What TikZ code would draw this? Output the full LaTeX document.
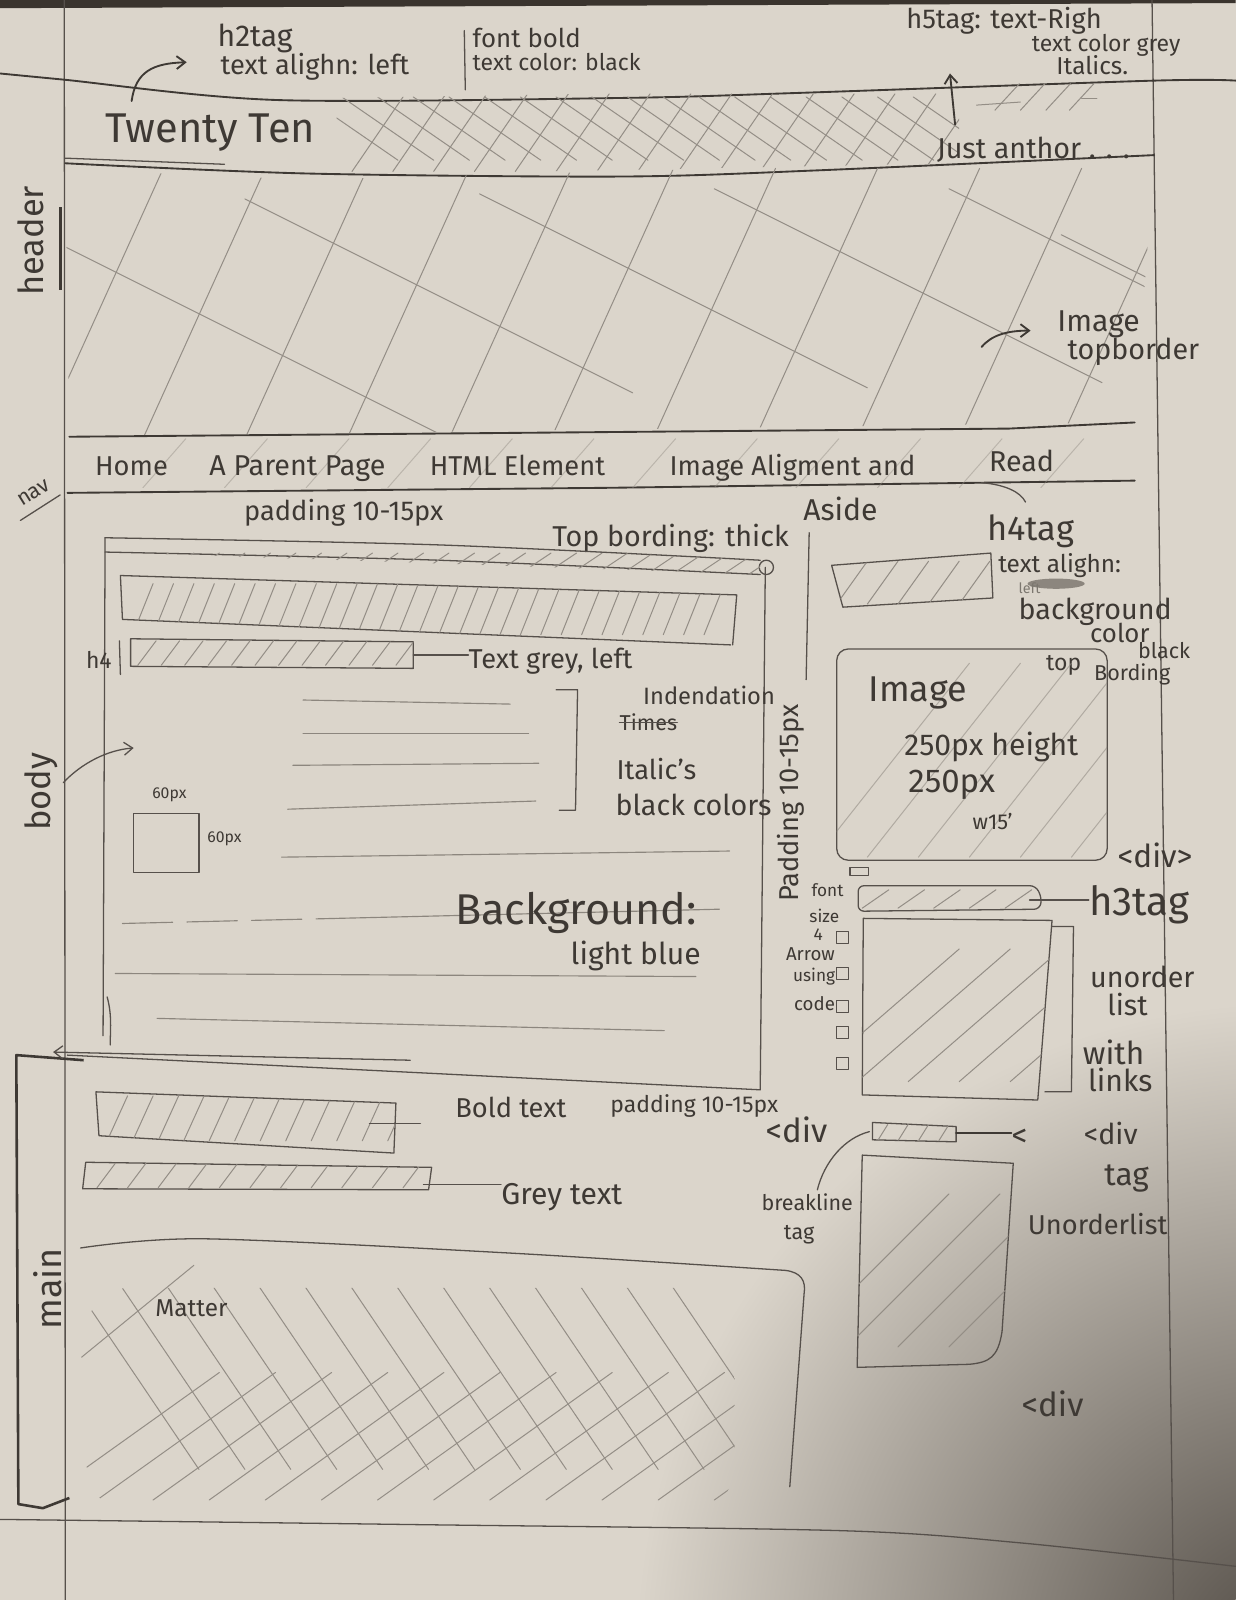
\documentclass[tikz,border=0pt]{standalone}
\usepackage{fontspec}
\setmainfont{Fira Sans}
\usetikzlibrary{arrows.meta}
\definecolor{paper}{RGB}{219,213,203}
\definecolor{ink}{RGB}{62,57,52}
\definecolor{lead}{RGB}{140,134,126}
\definecolor{umbra}{RGB}{58,52,46}
\newcommand{\fs}[1]{\fontsize{#1}{#1}\selectfont}
\begin{document}
\begin{tikzpicture}[x=0.025cm,y=-0.025cm,
  pen/.style={draw=ink,line width=1.3pt,line cap=round,line join=round},
  soft/.style={draw=ink!85!paper,line width=0.9pt,line cap=round,line join=round},
  faint/.style={draw=lead,line width=0.8pt,line cap=round},
  hatch/.style={draw=lead!90!paper,line width=0.7pt,line cap=round},
  note/.style={text=ink,inner sep=0pt,anchor=base west},
  side/.style={text=ink,inner sep=0pt},
  barb/.style={-{Straight Barb[length=6pt,width=9pt]}},
]
% ---------- sheet ----------
\fill[paper] (0,0) rectangle (1211,1568);
\useasboundingbox (0,0) rectangle (1211,1568);
\begin{scope}
  \clip (0,0) rectangle (1211,1568);
  \shade[inner color=umbra!85!paper, outer color=paper] (1262,1622) circle (640);
  \fill[umbra] (0,0) -- (1211,0) -- (1211,3) -- (0,8) -- cycle;
\end{scope}
% margins of the sheet
\draw[soft] (63,0) -- (64,1568);
\draw[soft] (1129,0) -- (1150,1568);
\draw[soft] plot[smooth] coordinates {(0,1489) (400,1494) (823,1500) (1000,1512) (1211,1535)};

% ---------- header band ----------
\draw[pen] plot[smooth] coordinates {(0,72) (62,78) (271,98) (608,96) (784,91) (1131,79) (1211,79)};
\draw[pen] plot[smooth] coordinates {(64,160) (300,170) (608,173) (800,167) (1131,152)};
\draw[soft] (64,155) -- (220,161);
\begin{scope}
  \clip (330,96) -- (940,86) -- (940,160) -- (330,172) -- cycle;
  \foreach \sx in {300,335,...,900} \draw[hatch] (\sx,95) -- ++(90,62);
  \foreach \sx in {345,385,...,945} \draw[hatch] (\sx,168) -- ++(52,-76);
\end{scope}
\foreach \sx in {975,1000,1025,1048} \draw[hatch] (\sx,108) -- ++(24,-26);
\draw[hatch] (957,103) -- (1000,100);
\draw[hatch] (1060,97) -- (1075,97);

% header texts
\node[note,font=\fs{29}] (title) at (103,140) {Twenty Ten};
\node[note,font=\fs{20}] (tagline) at (918,155) {Just anthor . . .};
\node[note,font=\fs{21}] (h2note) at (213,46) {h2tag};
\node[note,font=\fs{19}] (alignnote) at (216,73) {text alighn: left};
\node[note,font=\fs{18}] (boldnote) at (463,47) {font bold};
\node[note,font=\fs{16}] (colnote) at (463,69) {text color: black};
\node[note,font=\fs{19}] (h5note) at (888,28) {h5tag: text-Righ};
\node[note,font=\fs{16}] (greynote) at (1011,50) {text color grey};
\node[note,font=\fs{17}] (italnote) at (1035,73) {Italics.};
\draw[soft] (455,30) -- (456,88);
\coordinate (tA) at (129,99);
\coordinate (tB) at (183,61);
\draw[pen,barb] (tA) .. controls (133,70) and (150,62) .. (tB);
\coordinate (jA) at (936,122);
\coordinate (jB) at (931,72);
\draw[pen,barb] (jA) -- (jB);

% ---------- header image ----------
\begin{scope}
  \clip (64,166) -- (300,176) -- (1131,154) -- (1112,414) -- (68,428) -- cycle;
  \foreach \sx in {40,140,...,1140} \draw[hatch] (\sx,430) -- ++(120,-265);
  \foreach \sx/\sy in {60/240, 240/195, 470/190, 700/185, 930/185, 1040/230}
    \draw[hatch] (\sx,\sy) -- ++(380,190);
\end{scope}
\node[note,font=\fs{21}] (imgnote) at (1036,325) {Image};
\node[note,font=\fs{20}] (topnote) at (1046,352) {topborder};
\coordinate (iA) at (962,340);
\coordinate (iB) at (1010,324);
\draw[pen,barb] (iA) .. controls (972,328) and (988,324) .. (iB);

% ---------- nav ----------
\draw[pen] (68,428) -- (989,420) -- (1112,414);
\draw[pen] (66,483) -- (600,478) -- (1112,471);
\begin{scope}
  \clip (66,430) rectangle (1112,478);
  \foreach \sx in {140,220,...,1080} \draw[hatch,draw opacity=0.45] (\sx,478) -- ++(42,-48);
\end{scope}
\node[note,font=\fs{19}] (navhome) at (93,466) {Home};
\node[note,font=\fs{20}] (navparent) at (205,466) {A Parent Page};
\node[note,font=\fs{19}] (navhtml) at (421,466) {HTML Element};
\node[note,font=\fs{19}] (navimage) at (656,466) {Image Aligment and};
\node[note,font=\fs{20}] (navread) at (969,462) {Read};
\coordinate (rA) at (962,473);
\coordinate (rB) at (1005,492);
\draw[soft] (rA) .. controls (985,475) and (1000,482) .. (rB);

% ---------- left margin labels ----------
\node[side,font=\fs{24},rotate=90] (lhead) at (30,236) {header};
\draw[ink,line width=2.2pt] (59,203) -- (59,284);
\node[side,font=\fs{15},rotate=32] (lnav) at (33,483) {nav};
\draw[soft] (20,510) -- (59,485);
\node[side,font=\fs{24},rotate=90] (lbody) at (40,776) {body};
\node[side,font=\fs{25},rotate=90] (lmain) at (47,1263) {main};
\coordinate (bA) at (62,767);
\coordinate (bB) at (131,733);
\draw[soft,barb] (bA) .. controls (80,748) and (105,735) .. (bB);
% bracket around the main part
\draw[ink,line width=1.8pt,line join=round] (82,1039) -- (16,1034) -- (18,1474) -- (42,1478) -- (68,1468);

% ---------- body box ----------
\node[note,font=\fs{19}] (padnote) at (239,510) {padding 10-15px};
\node[note,font=\fs{20}] (topbord) at (541,536) {Top bording: thick};
\draw[soft] plot[smooth] coordinates {(103,527) (430,534) (745,549)};
\draw[soft] plot[smooth] coordinates {(103,541) (430,549) (745,563)};
\draw[soft] (751,556) circle (7);
\begin{scope}
  \clip plot[smooth] coordinates {(103,527) (430,534) (745,549)} -- (745,563) -- (103,541) -- cycle;
  \foreach \sx in {110,135,...,745} \draw[hatch] (\sx,562) -- ++(30,-20);
\end{scope}
\draw[soft] (103,527) -- (101,1015);
\draw[soft] (105,977) .. controls (110,995) and (108,1010) .. (108,1024);
\draw[soft] (750,556) -- (745,1068);
\draw[soft] (66,1034) -- (745,1068);
\coordinate (dA) at (402,1039);
\coordinate (dB) at (52,1031);
\draw[soft,barb] (dA) -- (dB);

% title bar
\draw[soft] (118,564) -- (722,583) -- (718,632);
\draw[soft] (118,564) -- (120,607) -- (716,632);
\begin{scope}
  \clip (118,564) -- (722,583) -- (718,632) -- (120,607) -- cycle;
  \foreach \sx in {130,150,...,700} \draw[hatch] (\sx,622) -- ++(20,-50);
\end{scope}
% h4 bar
\draw[soft] (128,626) -- (405,629) -- (405,655) -- (128,653) -- cycle;
\begin{scope}
  \clip (128,626) -- (405,629) -- (405,655) -- (128,653) -- cycle;
  \foreach \sx in {135,158,...,400} \draw[hatch] (\sx,652) -- ++(18,-24);
\end{scope}
\draw[soft] (117,628) -- (118,661);
\node[note,font=\fs{16}] (h4note) at (84,655) {h4};
\node[note,font=\fs{19}] (greyleft) at (459,655) {Text grey, left};
\coordinate (gA) at (405,642);
\draw[soft] (gA) -- (greyleft.west |- gA);

% paragraph lines
\draw[faint] (297,686) -- (500,690);
\draw[faint] (297,719) -- (518,719);
\draw[faint] (287,750) -- (528,748);
\draw[faint] (282,793) -- (525,785);
\draw[faint] (276,840) -- (715,834);
\draw[faint,dash pattern=on 35pt off 10pt] (120,905) -- (330,900);
\draw[faint] (330,900) -- (705,891);
\draw[faint] (113,954) -- (682,957);
\draw[faint] (154,998) -- (651,1010);
\draw[soft] (545,676) -- (566,676) -- (564,794) -- (548,794);
\node[note,font=\fs{16.5}] (indent) at (630,690) {Indendation};
\node[note,font=\fs{15}] (times) at (607,716) {Times};
\draw[soft] (times.west) -- (times.east);
\node[note,font=\fs{19}] (italics) at (604,764) {Italic's};
\node[note,font=\fs{20}] (blackcol) at (603,799) {black colors};
% 60px square
\draw[soft] (131,797) rectangle (195,855);
\node[note,font=\fs{11}] (sqw) at (149,783) {60px};
\node[note,font=\fs{11}] (sqh) at (203,826) {60px};
\node[note,font=\fs{30}] (bgnote) at (446,906) {Background:};
\node[note,font=\fs{21}] (bluenote) at (559,945) {light blue};

% ---------- aside ----------
\node[note,font=\fs{21}] (aside) at (787,510) {Aside};
\draw[soft] (793,522) -- (790,666);
\node[side,font=\fs{19}] [rotate=90] (padv) at (775,787) {Padding 10-15px};
% h4 block
\draw[soft] (815,554) -- (971,542) -- (973,586) -- (826,595) -- cycle;
\begin{scope}
  \clip (815,554) -- (971,542) -- (973,586) -- (826,595) -- cycle;
  \foreach \sx in {820,850,...,970} \draw[hatch] (\sx,592) -- ++(30,-42);
\end{scope}
\node[note,font=\fs{24}] (h4tag) at (967,530) {h4tag};
\node[note,font=\fs{17}] (asidealign) at (978,561) {text alighn:};
\fill[lead] (1035,572) ellipse (28 and 5);
\node[note,font=\fs{10},text=lead!80!ink] (leftx) at (998,582) {left};
\node[note,font=\fs{20}] (bgcol) at (998,607) {background};
\node[note,font=\fs{18}] (colw) at (1068,630) {color};
\node[note,font=\fs{16}] (topw) at (1025,657) {top};
\node[note,font=\fs{15}] (blackw) at (1115,645) {black};
\node[note,font=\fs{15}] (bordw) at (1072,667) {Bording};
% image block
\draw[soft,rounded corners=8] (820,636) rectangle (1085,843);
\begin{scope}
  \clip (820,636) rectangle (1085,843);
  \foreach \sx in {800,850,...,1100} \draw[hatch,draw opacity=0.6] (\sx,840) -- ++(150,-190);
\end{scope}
\node[note,font=\fs{25}] (imgword) at (851,687) {Image};
\node[note,font=\fs{21}] (imgh) at (886,740) {250px height};
\node[note,font=\fs{23}] (imgw) at (890,777) {250px};
\node[note,font=\fs{15}] (imgws) at (953,813) {w15'};
\node[note,font=\fs{22}] (divA) at (1095,850) {<div>};
% h3 block
\draw[soft] (833,850) rectangle (851,858);
\draw[soft,rounded corners=4] (841,868) -- (1015,868) -- (1021,880) -- (1019,891) -- (841,893) -- cycle;
\begin{scope}
  \clip (841,868) rectangle (1020,892);
  \foreach \sx in {845,880,...,1010} \draw[hatch] (\sx,890) -- ++(26,-18);
\end{scope}
\node[note,font=\fs{28}] (h3tag) at (1067,897) {h3tag};
\coordinate (hA) at (1009,882);
\draw[soft] (hA) -- (h3tag.west |- hA);
\node[note,font=\fs{12}] (fontw) at (795,879) {font};
\node[note,font=\fs{12}] (sizew) at (793,904) {size};
\node[note,font=\fs{12}] (fourw) at (797,922) {4};
\node[note,font=\fs{13}] (arroww) at (770,941) {Arrow};
\node[note,font=\fs{12}] (usingw) at (777,962) {using};
\node[note,font=\fs{13}] (codew) at (778,990) {code};
\foreach \by in {913,948,980,1006,1036}
  \draw[soft,line width=0.7pt] (820,\by) rectangle ++(12,12);
% unordered list block
\draw[soft] (846,900) -- (1031,902) -- (1017,1078) -- (845,1073) -- cycle;
\draw[soft] (1031,908) -- (1052,908) -- (1050,1070) -- (1024,1070);
\begin{scope}
  \clip (846,900) -- (1031,902) -- (1017,1078) -- (845,1073) -- cycle;
  \foreach \sx in {790,840,...,1080} \draw[hatch] (\sx,1060) -- ++(150,-130);
\end{scope}
\node[note,font=\fs{20}] (unord) at (1068,968) {unorder};
\node[note,font=\fs{20}] (listw) at (1085,995) {list};
\node[note,font=\fs{22}] (withw) at (1061,1043) {with};
\node[note,font=\fs{21}] (linksw) at (1066,1070) {links};
% break line block
\node[note,font=\fs{23}] (divB) at (750,1120) {<div};
\draw[soft] (855,1100) -- (937,1104) -- (937,1119) -- (855,1117) -- cycle;
\begin{scope}
  \clip (855,1100) -- (937,1104) -- (937,1119) -- (855,1117) -- cycle;
  \foreach \sx in {860,880,...,935} \draw[hatch] (\sx,1118) -- ++(10,-16);
\end{scope}
\node[note,font=\fs{22}] (ltsign) at (991,1124) {<};
\coordinate (kA) at (937,1110);
\draw[ink,line width=1.6pt,line cap=round] (kA) -- (ltsign.west |- kA);
\node[note,font=\fs{15}] (brk) at (746,1186) {breakline};
\node[note,font=\fs{15}] (brktag) at (768,1215) {tag};
\coordinate (cA) at (852,1109);
\coordinate (cB) at (801,1166);
\draw[soft] (cA) .. controls (828,1115) and (808,1138) .. (cB);
\node[note,font=\fs{20}] (divC) at (1062,1122) {<div};
\node[note,font=\fs{22}] (tagC) at (1082,1162) {tag};
\node[note,font=\fs{19}] (unordl) at (1007,1210) {Unorderlist};
% lower list block
\draw[soft] (845,1132) -- (993,1140) -- (982,1305) .. controls (978,1330) and (970,1335) .. (950,1337) -- (840,1340) -- cycle;
\begin{scope}
  \clip (845,1132) -- (993,1140) -- (982,1305) -- (950,1337) -- (840,1340) -- cycle;
  \foreach \sx in {780,830,...,1020} \draw[hatch] (\sx,1320) -- ++(150,-150);
\end{scope}
\node[note,font=\fs{23}] (divD) at (1001,1388) {<div};

% ---------- main ----------
\node[note,font=\fs{19}] (boldw) at (446,1095) {Bold text};
\node[note,font=\fs{16}] (pad2) at (598,1090) {padding 10-15px};
\draw[soft] (94,1070) -- (388,1081) -- (386,1130) -- (97,1113) -- cycle;
\begin{scope}
  \clip (94,1070) -- (388,1081) -- (386,1130) -- (97,1113) -- cycle;
  \foreach \sx in {105,130,...,380} \draw[hatch] (\sx,1118) -- ++(20,-44);
\end{scope}
\coordinate (oA) at (362,1101);
\draw[soft] (oA) -- (412,1101);
\draw[soft] (84,1139) -- (423,1144) -- (420,1166) -- (81,1165) -- cycle;
\begin{scope}
  \clip (84,1139) -- (423,1144) -- (420,1166) -- (81,1165) -- cycle;
  \foreach \sx in {95,125,...,420} \draw[hatch] (\sx,1164) -- ++(18,-24);
\end{scope}
\node[note,font=\fs{21}] (greyw) at (491,1180) {Grey text};
\coordinate (wA) at (415,1161);
\draw[soft] (wA) -- (greyw.west |- wA);
% matter block
\draw[soft] plot[smooth] coordinates {(79,1223) (199,1214) (500,1228) (770,1245)}
  .. controls (785,1247) and (790,1255) .. (788,1268) -- (774,1457);
\begin{scope}
  \clip[rounded corners=30] (85,1262) rectangle (720,1480);
  \foreach \sx in {70,115,...,700} \draw[hatch] (\sx,1255) -- ++(125,185);
  \foreach \sx in {40,95,...,720} \draw[hatch] (\sx,1470) -- ++(175,-125);
\end{scope}
\draw[hatch] (80,1330) -- (190,1240);
\node[note,font=\fs{17}] (matter) at (152,1290) {Matter};
\end{tikzpicture}
\end{document}
